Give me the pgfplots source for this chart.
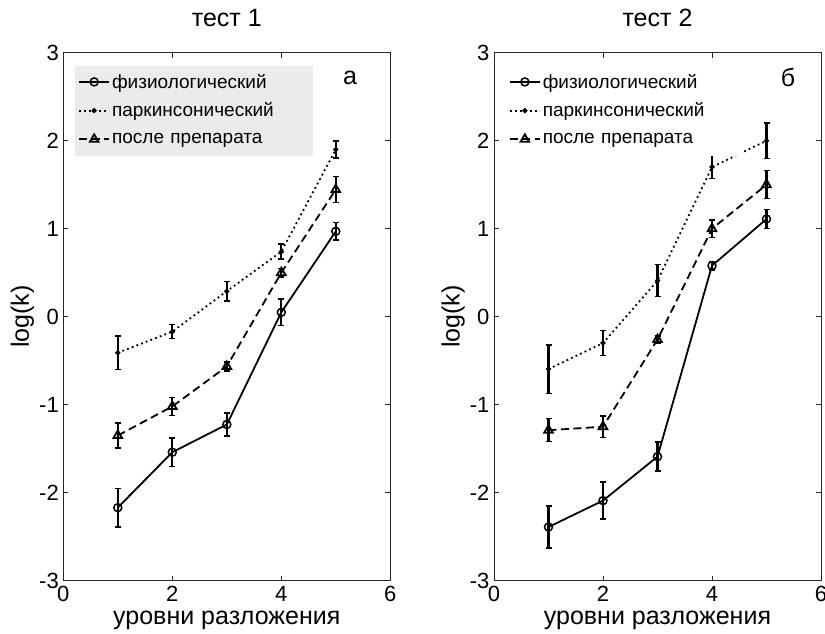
\documentclass[border=0pt]{standalone}
\usepackage{fontspec}
\setmainfont{Liberation Sans}
\usepackage{pgfplots}
\pgfplotsset{compat=1.18}

% log(k) by decomposition level, mean and spread
% test 1
\newcommand{\physA}{(1,-2.17) +- (0,0.22) (2,-1.54) +- (0,0.16) (3,-1.225) +- (0,0.13) (4,0.05) +- (0,0.15) (5,0.97) +- (0,0.10)}
\newcommand{\parkA}{(1,-0.41) +- (0,0.19) (2,-0.17) +- (0,0.08) (3,0.29) +- (0,0.11) (4,0.74) +- (0,0.085) (5,1.90) +- (0,0.095)}
\newcommand{\drugA}{(1,-1.35) +- (0,0.14) (2,-1.02) +- (0,0.10) (3,-0.565) +- (0,0.05) (4,0.50) +- (0,0.05) (5,1.445) +- (0,0.15)}
% test 2
\newcommand{\physB}{(1,-2.39) +- (0,0.24) (2,-2.09) +- (0,0.21) (3,-1.59) +- (0,0.165) (4,0.58) +- (0,0.05) (5,1.11) +- (0,0.11)}
\newcommand{\parkB}{(1,-0.595) +- (0,0.275) (2,-0.30) +- (0,0.14) (3,0.41) +- (0,0.18) (4,1.70) +- (0,0.13) (5,2.00) +- (0,0.20)}
\newcommand{\drugB}{(1,-1.29) +- (0,0.13) (2,-1.25) +- (0,0.12) (3,-0.26) +- (0,0.04) (4,1.00) +- (0,0.10) (5,1.50) +- (0,0.16)}

\definecolor{legendgray}{HTML}{EBEBEB}

\pgfplotsset{
  panel/.style={
    scale only axis, width=327pt, height=528pt,
    xmin=0, xmax=6, ymin=-3, ymax=3,
    xtick={0,2,4,6}, ytick={-3,-2,-1,0,1,2,3},
    axis line style={line width=1pt, black!85},
    major tick length=5pt,
    tick style={line width=0.8pt, black!85},
    tick align=inside,
    /pgf/number format/assume math mode=true,
    tick label style={font=\fontsize{22}{26}\selectfont},
    yticklabel style={xshift=-1pt},
    xticklabel style={yshift=-2pt},
    xlabel={уровни разложения},
    ylabel={log(k)},
    every axis x label/.style={at={(axis description cs:0.5,-0.083)}, anchor=base, font=\fontsize{25}{30}\selectfont},
    every axis y label/.style={at={(axis description cs:-0.125,0.5)}, anchor=center, rotate=90, font=\fontsize{25}{30}\selectfont},
    title style={font=\fontsize{25}{30}\selectfont, at={(axis description cs:0.5,1)}, anchor=base, yshift=20pt},
    legend cell align=left,
    legend image code/.code={\draw[mark repeat=2,mark phase=2,#1] plot coordinates {(0pt,0pt)(15pt,0pt)(30pt,0pt)};},
    legend style={at={(axis description cs:0.036,0.976)}, anchor=north west, draw=none,
      font=\fontsize{19}{22}\selectfont, inner xsep=3pt, inner ysep=2pt,
      nodes={text width=196pt, minimum height=28.7pt, inner ysep=0pt, inner xsep=2pt}},
    error bars/y dir=both, error bars/y explicit,
    error bars/error bar style={line width=2.2pt, black, solid},
    error bars/error mark options={rotate=90, mark size=3pt, line width=1.4pt, black, solid},
  },
  phys/.style={black, solid, line width=1.8pt, mark=o, mark size=4pt, mark options={solid, line width=1.5pt}},
  park/.style={black, line width=1.8pt, dash pattern=on 1.8pt off 3.2pt, mark=*, mark size=1.6pt, mark options={solid}},
  drug/.style={black, line width=1.8pt, dash pattern=on 8pt off 4.5pt, mark=triangle, mark size=5pt, mark options={solid, line width=1.8pt}},
}

\begin{document}
\begin{tikzpicture}[x=1pt,y=1pt]
\path[use as bounding box] (0,0) rectangle (825,633);

\begin{axis}[panel, at={(63.3pt,52.3pt)}, anchor=south west,
  title={тест 1}, legend style={fill=legendgray}]
  \addplot[phys] coordinates {\physA};
  \addplot[park] coordinates {\parkA};
  \addplot[drug] coordinates {\drugA};
  \legend{физиологический, паркинсонический, после препарата}
  \node[font=\fontsize{25}{30}\selectfont] at (axis description cs:0.877,0.953) {а};
\end{axis}

\begin{axis}[panel, at={(494pt,52.3pt)}, anchor=south west,
  title={тест 2}, legend style={fill=white}]
  \addplot[phys] coordinates {\physB};
  \addplot[park] coordinates {\parkB};
  \addplot[drug] coordinates {\drugB};
  \legend{физиологический, паркинсонический, после препарата}
  \node[font=\fontsize{25}{30}\selectfont] at (axis description cs:0.899,0.953) {б};
\end{axis}
\end{tikzpicture}
\end{document}
